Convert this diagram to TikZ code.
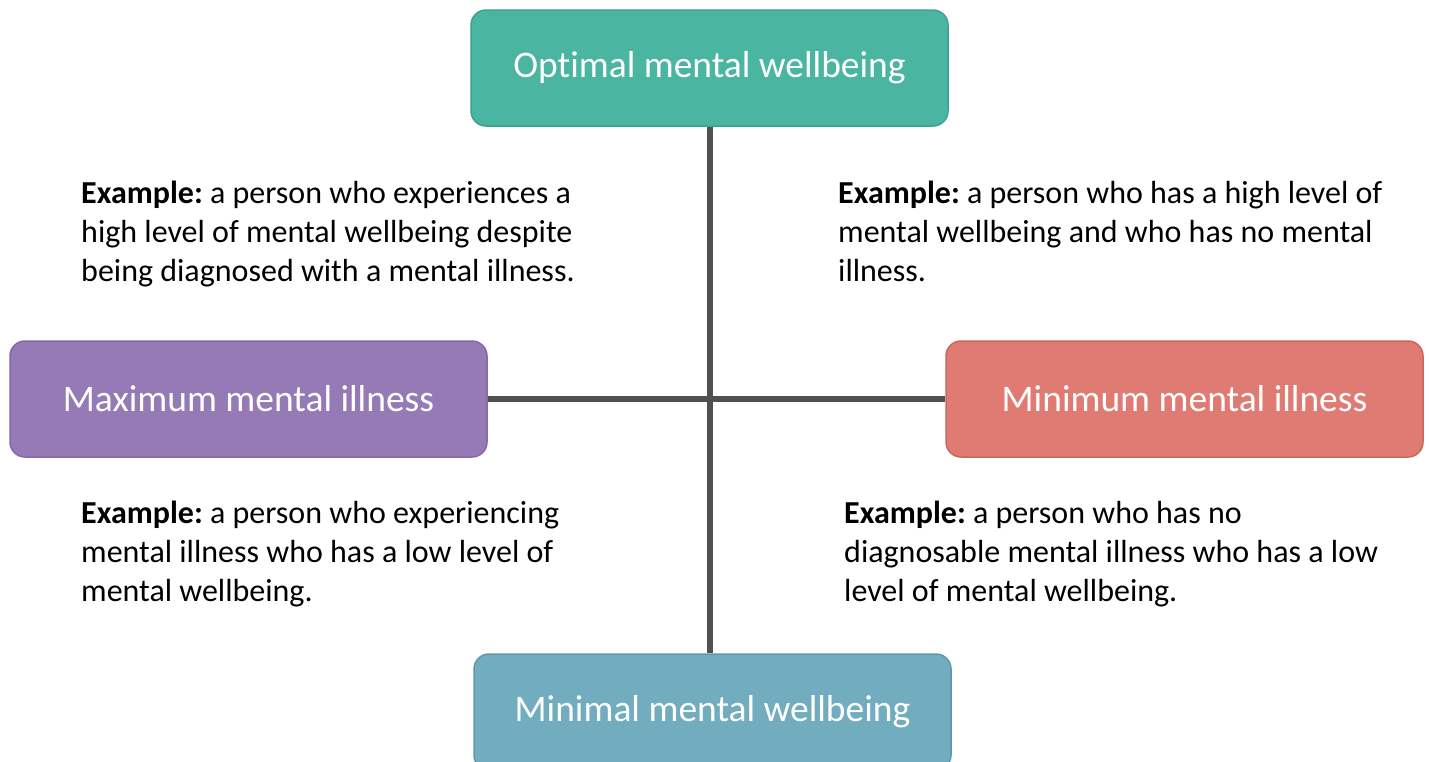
\documentclass[tikz,border=0pt]{standalone}
\usepackage{fontspec}
\setmainfont{Carlito}[Ligatures=CommonOff]
\usetikzlibrary{backgrounds}
\frenchspacing
\definecolor{teal1}{HTML}{4AB5A0}\definecolor{teal1b}{HTML}{3FA28E}
\definecolor{purp}{HTML}{967AB6}\definecolor{purpb}{HTML}{8569A3}
\definecolor{redd}{HTML}{E07B74}\definecolor{reddb}{HTML}{C9665F}
\definecolor{blu}{HTML}{71ACBF}\definecolor{blub}{HTML}{5F98AB}
\definecolor{axis}{HTML}{505050}
\tikzset{
  boxnode/.style={rounded corners=15pt, minimum width=477pt, minimum height=116pt,
    line width=1.5pt, text=white, font=\fontsize{37.5}{45}\selectfont, inner sep=0pt},
  example/.style={align=left, inner sep=0pt, anchor=base west, text=black,
    font=\fontsize{32}{39}\selectfont\frenchspacing},
  axisline/.style={draw=axis, line width=6pt}
}
\begin{document}
\begin{tikzpicture}[x=1pt,y=-1pt]
\useasboundingbox (0,0) rectangle (1429,761);
\node[boxnode, fill=teal1, draw=teal1b] (top) at (709.5,68) {Optimal mental wellbeing};
\node[boxnode, fill=purp, draw=purpb] (left) at (248.5,399) {Maximum mental illness};
\node[boxnode, fill=redd, draw=reddb] (right) at (1184.5,399) {Minimum mental illness};
\node[boxnode, fill=blu, draw=blub] (bottom) at (712.5,712) {Minimal mental wellbeing};
\begin{scope}[on background layer]
\draw[axisline] (top.south) -- (top.south |- bottom.north);
\draw[axisline] (left.east) -- (right.west);
\end{scope}
\node[example] (tl) at (81,281) {\textbf{Example:} a person who experiences a\\high level of mental wellbeing despite\\being diagnosed with a mental illness.};
\node[example] (tr) at (838,281) {\textbf{Example:} a person who has a high level of\\mental wellbeing and who has no mental\\illness.};
\node[example] (bl) at (81,601) {\textbf{Example:} a person who experiencing\\mental illness who has a low level of\\mental wellbeing.};
\node[example] (br) at (844,601) {\textbf{Example:} a person who has no\\diagnosable mental illness who has a low\\level of mental wellbeing.};
\end{tikzpicture}
\end{document}
